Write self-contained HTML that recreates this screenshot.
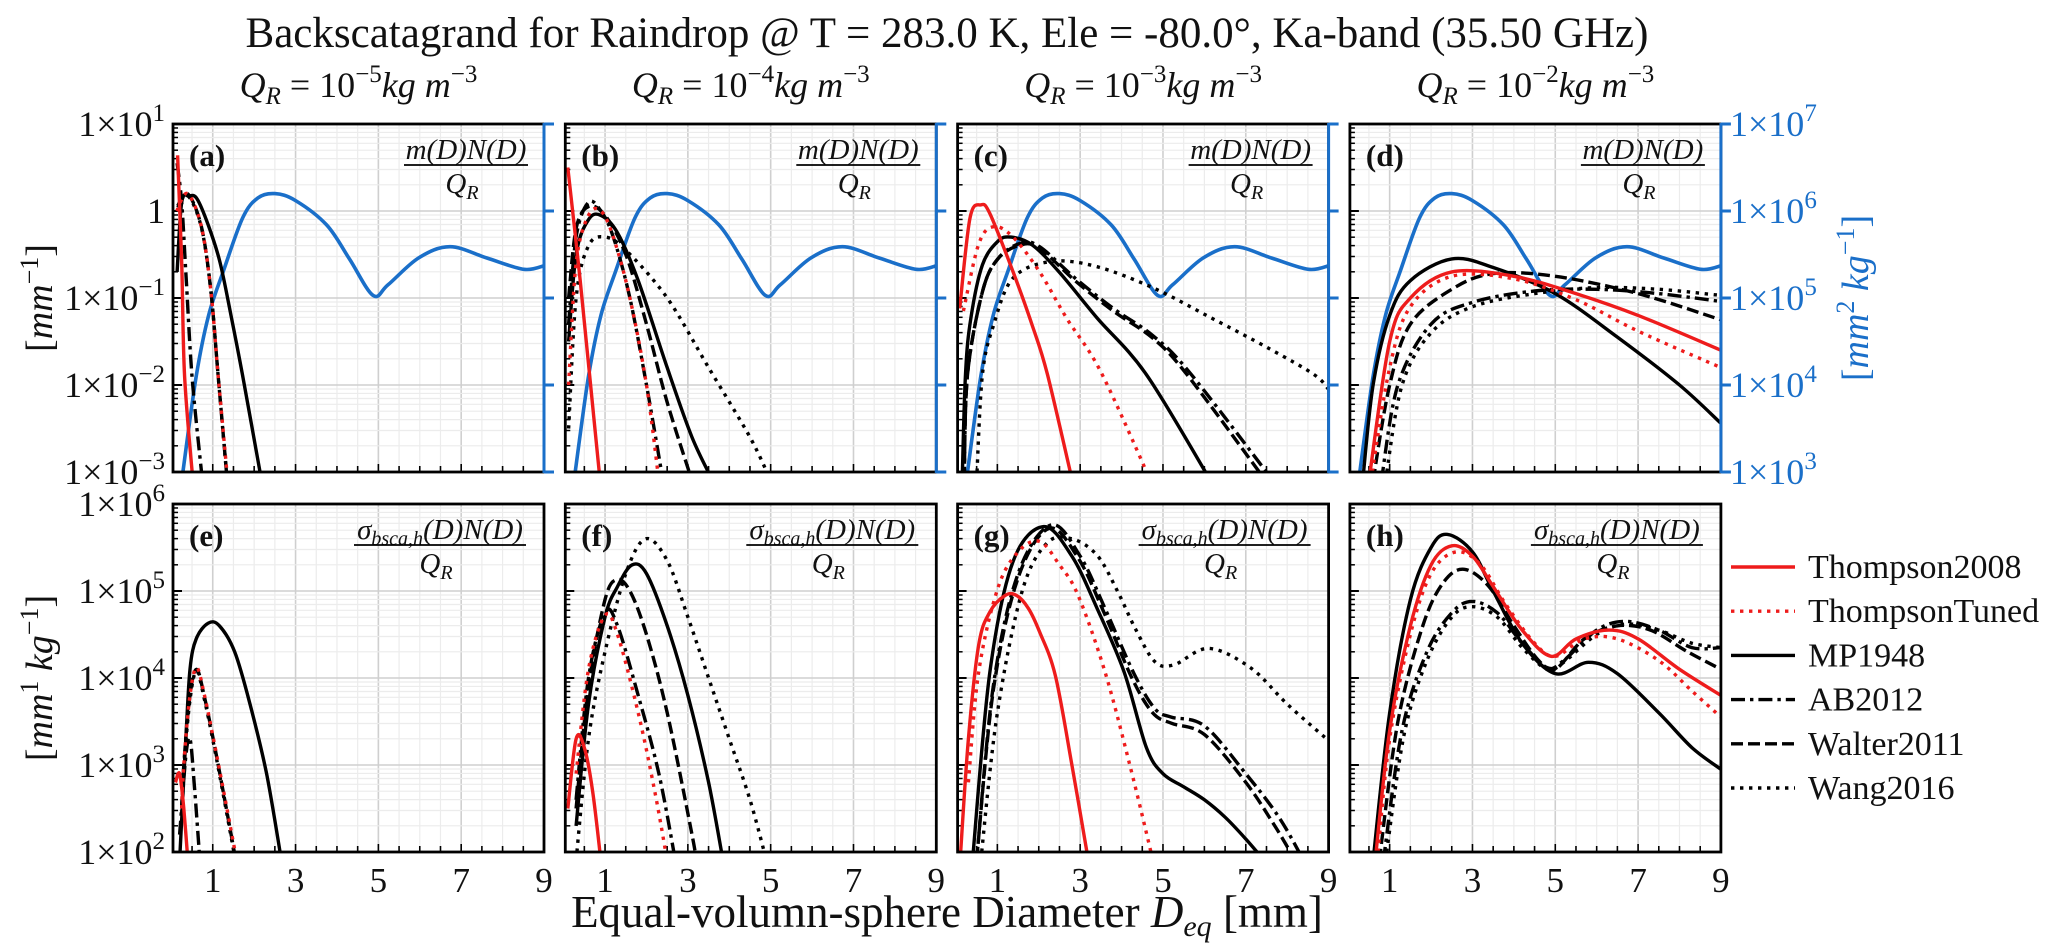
<!DOCTYPE html>
<html><head><meta charset="utf-8"><style>
html,body{margin:0;padding:0;background:#fff}
svg{display:block}
text{font-family:"Liberation Serif",serif;fill:#111}
</style></head><body>
<svg id="fig" width="2067" height="951" viewBox="0 0 2067 951" xmlns="http://www.w3.org/2000/svg">
<text x="947" y="47" font-size="43" text-anchor="middle">Backscatagrand for Raindrop @ T = 283.0 K, Ele = -80.0°, Ka-band (35.50 GHz)</text>
<text x="947" y="927" font-size="45" text-anchor="middle">Equal-volumn-sphere Diameter <tspan font-style="italic">D</tspan><tspan font-style="italic" font-size="30" dy="9">eq</tspan><tspan dy="-9"> [mm]</tspan></text>
<text transform="translate(52,298) rotate(-90)" font-size="38" text-anchor="middle">[<tspan font-style="italic">mm</tspan><tspan font-size="26" dy="-14">−1</tspan><tspan dy="14">]</tspan></text>
<text transform="translate(52,678) rotate(-90)" font-size="38" text-anchor="middle">[<tspan font-style="italic">mm</tspan><tspan font-size="26" dy="-14">1</tspan><tspan dy="14"> </tspan><tspan font-style="italic">kg</tspan><tspan font-size="26" dy="-14">−1</tspan><tspan dy="14">]</tspan></text>
<text transform="translate(1868,298) rotate(-90)" font-size="38" text-anchor="middle" style="fill:#1a6fc9">[<tspan font-style="italic" style="fill:#1a6fc9">mm</tspan><tspan font-size="26" dy="-14" style="fill:#1a6fc9">2</tspan><tspan dy="14"> </tspan><tspan font-style="italic" style="fill:#1a6fc9">kg</tspan><tspan font-size="26" dy="-14" style="fill:#1a6fc9">−1</tspan><tspan dy="14" style="fill:#1a6fc9">]</tspan></text>
<g id="panels"></g>
<g id="legend"></g>
</svg>
<script>
// ---- data: x (mm) and log10(value) pairs ----
const blueBackscatter = [[0.28,3.0],[0.6,4.1],[0.9,4.8],[1.25,5.3],[1.72,5.92],[2.09,6.15],[2.5,6.2],[3.0,6.12],[3.75,5.84],[4.3,5.45],[4.87,5.03],[5.23,5.15],[5.97,5.46],[6.73,5.59],[7.62,5.46],[8.51,5.33],[9,5.37]];

const a_Thompson2008 = [[0.15,0.64],[0.25,-0.6],[0.32,-1.9],[0.52,-3.1]];
const a_ThompsonTuned = [[0.13,0.0],[0.39,0.2],[0.72,-0.17],[0.95,-0.9],[1.13,-1.89],[1.36,-3.1]];
const a_MP1948 = [[0.14,-0.7],[0.25,0.1],[0.43,0.17],[0.62,0.14],[0.89,-0.16],[1.17,-0.58],[1.44,-1.2],[1.72,-1.89],[2.18,-3.1]];
const a_AB2012 = [[0.14,0.55],[0.25,0.1],[0.35,-0.7],[0.5,-1.9],[0.75,-3.1]];
const a_Walter2011 = [[0.15,0.06],[0.39,0.2],[0.72,-0.17],[0.95,-0.9],[1.13,-1.89],[1.35,-3.1]];
const a_Wang2016 = [[0.15,0.04],[0.39,0.18],[0.72,-0.18],[0.95,-0.9],[1.13,-1.89],[1.35,-3.1]];

const b_Thompson2008 = [[0.1,0.5],[0.4,-0.8],[0.65,-2],[0.88,-3.1]];
const b_ThompsonTuned = [[0.12,-2],[0.3,-0.6],[0.6,-0.05],[0.9,0.0],[1.2,-0.3],[1.6,-1.0],[2.0,-2.0],[2.3,-3.1]];
const b_MP1948 = [[0.12,-1.5],[0.3,-0.5],[0.6,-0.1],[0.9,-0.05],[1.3,-0.25],[1.8,-0.8],[2.5,-1.8],[3.1,-2.6],[3.6,-3.1]];
const b_AB2012 = [[0.12,-1.3],[0.3,-0.3],[0.6,0.1],[0.9,0.0],[1.2,-0.3],[1.6,-1.0],[2.0,-2.0],[2.4,-3.1]];
const b_Walter2011 = [[0.12,-1.0],[0.3,-0.2],[0.6,0.05],[1.0,-0.05],[1.5,-0.5],[2.0,-1.3],[2.5,-2.2],[3.1,-3.1]];
const b_Wang2016 = [[0.12,-2.5],[0.3,-1.0],[0.6,-0.4],[1.0,-0.3],[1.5,-0.45],[2.5,-1.0],[3.5,-1.8],[4.5,-2.6],[5.0,-3.1]];

const c_Thompson2008 = [[0.09,-1.12],[0.34,-0.08],[0.6,0.07],[0.82,-0.03],[1.38,-0.7],[1.84,-1.31],[2.21,-1.88],[2.81,-3.1]];
const c_ThompsonTuned = [[0.18,-1.15],[0.55,-0.38],[0.91,-0.18],[1.38,-0.3],[2.02,-0.7],[2.67,-1.23],[3.5,-1.85],[4.7,-3.1]];
const c_MP1948 = [[0.15,-3.1],[0.23,-1.88],[0.36,-1.23],[0.64,-0.62],[1.01,-0.35],[1.33,-0.3],[1.84,-0.39],[2.49,-0.7],[3.41,-1.23],[4.6,-1.88],[6.15,-3.1]];
const c_AB2012 = [[0.2,-3.1],[0.28,-1.88],[0.64,-0.93],[1.01,-0.55],[1.56,-0.37],[2.02,-0.41],[2.9,-0.78],[3.83,-1.13],[4.75,-1.43],[5.65,-1.86],[7.66,-3.1]];
const c_Walter2011 = [[0.2,-3.1],[0.28,-1.88],[0.64,-0.93],[1.01,-0.55],[1.56,-0.39],[2.02,-0.43],[2.9,-0.81],[3.83,-1.16],[4.75,-1.46],[5.58,-1.88],[7.48,-3.1]];
const c_Wang2016 = [[0.5,-3.1],[0.64,-1.88],[0.91,-1.31],[1.38,-0.77],[2.3,-0.58],[3.41,-0.64],[4.79,-0.89],[6.17,-1.23],[7.56,-1.58],[8.65,-1.88],[9,-2.05]];

const d_Thompson2008 = [[0.5,-3.1],[1.0,-1.5],[1.5,-1.0],[2.5,-0.7],[4,-0.75],[5.5,-0.95],[7,-1.2],[9,-1.6]];
const d_ThompsonTuned = [[0.55,-3.1],[1.0,-1.8],[1.5,-1.1],[2.5,-0.75],[4,-0.78],[5.5,-1.02],[7,-1.38],[9,-1.8]];
const d_MP1948 = [[0.35,-3.1],[0.6,-2],[1.0,-1.2],[1.5,-0.8],[2.5,-0.55],[3.5,-0.65],[5,-0.95],[6.5,-1.45],[8,-2.0],[9,-2.44]];
const d_AB2012 = [[0.8,-3.1],[1.2,-2.0],[2,-1.3],[3,-1.05],[4.5,-0.92],[6,-0.9],[7.5,-0.95],[9,-1.04]];
const d_Walter2011 = [[0.6,-3.1],[1,-2.0],[1.5,-1.3],[2.5,-0.9],[3.5,-0.72],[5,-0.75],[7,-0.95],[9,-1.25]];
const d_Wang2016 = [[0.9,-3.1],[1.3,-2.0],[2,-1.4],[3,-1.1],[4.5,-0.95],[6,-0.88],[7.5,-0.9],[9,-0.97]];

const e_Thompson2008 = [[0.1,2.8],[0.2,2.9],[0.3,2.5],[0.4,1.9]];
const e_ThompsonTuned = [[0.25,2.5],[0.3,3.0],[0.45,3.8],[0.61,4.12],[0.8,3.8],[1.1,3.1],[1.58,1.9]];
const e_MP1948 = [[0.2,1.9],[0.35,3.3],[0.45,4.1],[0.6,4.45],[0.89,4.63],[1.16,4.6],[1.53,4.3],[1.9,3.7],[2.3,2.9],[2.66,1.9]];
const e_AB2012 = [[0.2,2.2],[0.35,3.1],[0.45,3.3],[0.55,2.8],[0.69,1.9]];
const e_Walter2011 = [[0.25,2.5],[0.3,3.0],[0.45,3.8],[0.61,4.1],[0.8,3.78],[1.1,3.08],[1.56,1.9]];
const e_Wang2016 = [[0.25,2.45],[0.3,2.95],[0.45,3.75],[0.61,4.08],[0.8,3.75],[1.1,3.05],[1.55,1.9]];

const f_Thompson2008 = [[0.1,2.5],[0.3,3.3],[0.5,3.2],[0.7,2.7],[0.9,1.9]];
const f_ThompsonTuned = [[0.3,2.9],[0.6,4.1],[1.0,4.72],[1.3,4.5],[1.8,3.6],[2.2,2.7],[2.5,1.9]];
const f_MP1948 = [[0.3,2.3],[0.6,3.7],[1.0,4.7],[1.3,5.05],[1.65,5.3],[2.0,5.2],[2.5,4.6],[3.0,3.8],[3.5,2.8],[3.85,1.9]];
const f_AB2012 = [[0.3,2.6],[0.6,4.0],[1.0,4.75],[1.3,4.6],[1.8,3.8],[2.3,2.9],[2.7,1.9]];
const f_Walter2011 = [[0.3,2.5],[0.6,3.9],[1.0,4.9],[1.28,5.13],[1.6,5.0],[2.0,4.5],[2.5,3.6],[3.1,2.2],[3.2,1.9]];
const f_Wang2016 = [[0.3,1.9],[0.6,3.3],[1.0,4.3],[1.5,5.2],[1.98,5.6],[2.5,5.35],[3.0,4.7],[3.5,4.0],[4.0,3.3],[4.5,2.6],[4.9,1.9]];

const g_Thompson2008 = [[0.1,1.9],[0.3,3.3],[0.55,4.38],[0.82,4.76],[1.19,4.95],[1.46,4.95],[1.75,4.8],[2.02,4.53],[2.4,4.03],[2.8,3.0],[3.2,1.9]];
const g_ThompsonTuned = [[0.3,2.8],[0.55,4.07],[1.01,5.03],[1.5,5.45],[2.02,5.57],[2.5,5.3],[2.95,4.95],[3.6,4.07],[4.2,3.0],[4.76,1.9]];
const g_MP1948 = [[0.4,1.9],[0.82,4.07],[1.38,5.34],[2.12,5.74],[2.8,5.4],[3.41,4.8],[4.06,4.07],[4.6,3.2],[5.0,2.9],[5.5,2.75],[6.0,2.6],[6.5,2.4],[7.0,2.15],[7.45,1.9]];
const g_AB2012 = [[0.5,1.9],[0.9,3.9],[1.5,5.2],[2.3,5.76],[3.0,5.4],[3.6,4.8],[4.3,4.05],[4.8,3.65],[5.2,3.55],[6.0,3.45],[7.0,2.9],[7.8,2.4],[8.4,1.9]];
const g_Walter2011 = [[0.5,1.9],[0.9,3.85],[1.5,5.15],[2.25,5.72],[2.95,5.38],[3.55,4.78],[4.25,4.0],[4.75,3.6],[5.2,3.48],[6.0,3.35],[7.0,2.8],[7.7,2.3],[8.2,1.9]];
const g_Wang2016 = [[0.6,1.9],[1.0,3.6],[1.6,5.0],[2.2,5.55],[2.8,5.6],[3.41,5.41],[3.9,5.0],[4.33,4.57],[4.8,4.19],[5.26,4.15],[6.1,4.34],[7.11,4.12],[8.0,3.7],[9,3.28]];

const h_Thompson2008 = [[0.65,1.9],[1.0,3.4],[1.5,4.6],[2.0,5.3],[2.5,5.52],[3.0,5.4],[3.5,5.05],[4.2,4.55],[4.9,4.25],[5.5,4.45],[6.3,4.55],[7.0,4.45],[8.0,4.1],[9,3.8]];
const h_ThompsonTuned = [[0.7,1.9],[1.0,3.3],[1.5,4.5],[2.0,5.2],[2.6,5.45],[3.2,5.3],[3.8,4.85],[4.5,4.4],[5.0,4.25],[5.7,4.45],[6.5,4.45],[7.5,4.2],[8.3,3.85],[9,3.55]];
const h_MP1948 = [[0.6,1.9],[1.0,3.6],[1.5,4.9],[2.0,5.5],[2.4,5.65],[3.0,5.45],[3.5,5.0],[4.2,4.4],[5.0,4.05],[5.8,4.18],[6.5,4.05],[7.5,3.6],[8.3,3.2],[9,2.95]];
const h_AB2012 = [[0.85,1.9],[1.3,3.4],[1.9,4.3],[2.5,4.75],[3.0,4.88],[3.6,4.75],[4.2,4.4],[4.8,4.12],[5.2,4.2],[6.0,4.55],[6.7,4.65],[7.5,4.55],[8.3,4.35],[9,4.35]];
const h_Walter2011 = [[0.75,1.9],[1.2,3.5],[1.8,4.6],[2.3,5.1],[2.8,5.25],[3.4,5.05],[4.0,4.6],[4.6,4.2],[5.0,4.1],[5.7,4.45],[6.5,4.6],[7.3,4.55],[8.2,4.3],[9,4.1]];
const h_Wang2016 = [[0.9,1.9],[1.35,3.35],[1.9,4.2],[2.5,4.7],[3.0,4.82],[3.6,4.7],[4.2,4.35],[4.8,4.1],[5.2,4.18],[6.0,4.5],[6.7,4.62],[7.5,4.55],[8.3,4.4],[9,4.35]];

const xTickLabels = ["1","3","5","7","9"];
const topYTickExps = [1,0,-1,-2,-3];
const bottomYTickExps = [6,5,4,3,2];
const rightYTickExps = [7,6,5,4,3];
const columnTitleExps = ["−5","−4","−3","−2"];
const seriesNames = ["Thompson2008","ThompsonTuned","MP1948","AB2012","Walter2011","Wang2016"];

// ---- layout ----
const NS="http://www.w3.org/2000/svg";
const LEFTS=[173,565.3,957.6,1349.9], W=371, TOP=[124,504], H=348, XMIN=0.04, XMAX=9;
const BLUE="#1a6fc9";
const styles={
 Thompson2008:{c:"#ee1c1c",d:""},
 ThompsonTuned:{c:"#ee1c1c",d:"3.4,5.6"},
 MP1948:{c:"#000",d:""},
 AB2012:{c:"#000",d:"14,5,3.4,5"},
 Walter2011:{c:"#000",d:"12,5"},
 Wang2016:{c:"#000",d:"3.4,5.6"}
};
function xs(left,v){return left+(v-XMIN)/(XMAX-XMIN)*W;}
function ysTop(l){return TOP[0]+(1-l)*87;}
function ysBot(l){return TOP[1]+(6-l)*87;}
function mk(tag,attrs,parent){const e=document.createElementNS(NS,tag);for(const k in attrs)e.setAttribute(k,attrs[k]);if(parent)parent.appendChild(e);return e;}
function pathFrom(pts,fx,fy){
 const P=pts.map(p=>[fx(p[0]),fy(p[1])]);
 let d="M"+P[0][0].toFixed(1)+","+P[0][1].toFixed(1);
 for(let i=0;i<P.length-1;i++){
  const p0=P[Math.max(0,i-1)],p1=P[i],p2=P[i+1],p3=P[Math.min(P.length-1,i+2)];
  const c1=[p1[0]+(p2[0]-p0[0])/6,p1[1]+(p2[1]-p0[1])/6];
  const c2=[p2[0]-(p3[0]-p1[0])/6,p2[1]-(p3[1]-p1[1])/6];
  d+=" C"+c1[0].toFixed(1)+","+c1[1].toFixed(1)+" "+c2[0].toFixed(1)+","+c2[1].toFixed(1)+" "+p2[0].toFixed(1)+","+p2[1].toFixed(1);
 }
 return d;
}
function sciText(parent,x,y,exp,anchor,color,name){
 const t=mk("text",{x:x,y:y,"font-size":"36","text-anchor":anchor},parent);
 
 
 if(color)t.setAttribute("style","fill:"+color);
 if(exp===0){t.textContent="1";return t;}
 const a=mk("tspan",{},t);a.textContent="1×10";if(color)a.setAttribute("style","fill:"+color);
 const b=mk("tspan",{"font-size":"25",dy:"-15"},t);b.textContent=String(exp).replace("-","−");if(color)b.setAttribute("style","fill:"+color);
 return t;
}
const panelsG=document.getElementById("panels");
const allData={a:[a_Thompson2008,a_ThompsonTuned,a_MP1948,a_AB2012,a_Walter2011,a_Wang2016],
 b:[b_Thompson2008,b_ThompsonTuned,b_MP1948,b_AB2012,b_Walter2011,b_Wang2016],
 c:[c_Thompson2008,c_ThompsonTuned,c_MP1948,c_AB2012,c_Walter2011,c_Wang2016],
 d:[d_Thompson2008,d_ThompsonTuned,d_MP1948,d_AB2012,d_Walter2011,d_Wang2016],
 e:[e_Thompson2008,e_ThompsonTuned,e_MP1948,e_AB2012,e_Walter2011,e_Wang2016],
 f:[f_Thompson2008,f_ThompsonTuned,f_MP1948,f_AB2012,f_Walter2011,f_Wang2016],
 g:[g_Thompson2008,g_ThompsonTuned,g_MP1948,g_AB2012,g_Walter2011,g_Wang2016],
 h:[h_Thompson2008,h_ThompsonTuned,h_MP1948,h_AB2012,h_Walter2011,h_Wang2016]};
const letters=["a","b","c","d","e","f","g","h"];
letters.forEach((L,idx)=>{
 const row=idx<4?0:1, col=idx%4, left=LEFTS[col], top=TOP[row];
 const fy=row===0?ysTop:ysBot, fx=v=>xs(left,v);
 const g=mk("g",{},panelsG);
 
 
 const cp=mk("clipPath",{id:"clip"+L},g);mk("rect",{x:left,y:top,width:W,height:H},cp);
 const grid=mk("g",{},g);
 
 
 for(let v=0.5;v<9;v+=0.5){
  const maj=(v%2===1);
  mk("line",{x1:fx(v),x2:fx(v),y1:top,y2:top+H,stroke:maj?"#cfcfcf":"#ececec","stroke-width":maj?1.6:1.2},grid);
 }
 const lo=row===0?-3:2;
 for(let dd=0;dd<4;dd++){
  for(let m=1;m<10;m++){
   const l=lo+dd+Math.log10(m), y=fy(l);
   mk("line",{x1:left,x2:left+W,y1:y,y2:y,stroke:m===1?"#cfcfcf":"#ececec","stroke-width":m===1?1.6:1.2},grid);
   mk("line",{x1:left,x2:left+(m===1?9:5),y1:y,y2:y,stroke:"#000","stroke-width":m===1?2:1.5},g);
  }
 }
 for(let v=0.5;v<9;v+=0.5){
  const maj=(v%2===1);
  mk("line",{x1:fx(v),x2:fx(v),y1:top+H,y2:top+H-(maj?8:6),stroke:"#000","stroke-width":1.6},g);
 }
 const cg=mk("g",{"clip-path":"url(#clip"+L+")"},g);
 if(row===0){
  const bp=mk("path",{d:pathFrom(blueBackscatter,fx,v=>ysTop(v-6)),fill:"none",stroke:BLUE,"stroke-width":3.6},cg);
  
  
 }
 const order=[5,4,3,2,1,0];
 order.forEach(si=>{
  const nm=seriesNames[si], st=styles[nm];
  const p=mk("path",{d:pathFrom(allData[L][si],fx,fy),fill:"none",stroke:st.c,"stroke-width":3.4,"stroke-linejoin":"round"},cg);
  if(st.d)p.setAttribute("stroke-dasharray",st.d);
  
  
 });
 const fr=mk("rect",{x:left,y:top,width:W,height:H,fill:"none",stroke:"#000","stroke-width":2.8},g);
 
 
 if(row===0){
  const rs=mk("line",{x1:left+W,x2:left+W,y1:top-1,y2:top+H+1,stroke:BLUE,"stroke-width":3},g);
  
  
  for(let k=0;k<5;k++){
   const y=top+k*87;
   mk("line",{x1:left+W,x2:left+W+10,y1:y,y2:y,stroke:BLUE,"stroke-width":3},g);
  }
 }
 const pl=mk("text",{x:left+16,y:top+42,"font-size":"31","font-weight":"bold"},g);
 pl.textContent="("+L+")";
 
 
 const cx=row===0?left+W-78:left+W-104;
 const fg=mk("g",{},g);
 
 
 const num=mk("text",{x:cx,y:top+35,"font-size":"29","font-style":"italic","text-anchor":"middle"},fg);
 if(row===0){num.textContent="m(D)N(D)";}
 else{
  const s1=mk("tspan",{},num);s1.textContent="σ";
  const s2=mk("tspan",{"font-size":"20",dy:"6"},num);s2.textContent="bsca,h";
  const s3=mk("tspan",{dy:"-6"},num);s3.textContent="(D)N(D)";
 }
 const hw=row===0?62:86;
 mk("line",{x1:cx-hw,x2:cx+hw,y1:top+41,y2:top+41,stroke:"#000","stroke-width":1.8},fg);
 const den=mk("text",{x:cx-4,y:top+69,"font-size":"29","font-style":"italic","text-anchor":"middle"},fg);
 const d1=mk("tspan",{},den);d1.textContent="Q";
 const d2=mk("tspan",{"font-size":"20",dy:"6"},den);d2.textContent="R";
 if(row===1){
  xTickLabels.forEach(t=>{
   const tx=mk("text",{x:fx(+t),y:top+H+40,"font-size":"35","text-anchor":"middle"},g);
   tx.textContent=t;
   
   
  });
 }
 if(row===0){
  const ct=mk("text",{x:left+W/2,y:97,"font-size":"36","text-anchor":"middle","font-style":"italic"},g);
  
  
  const q=mk("tspan",{},ct);q.textContent="Q";
  const r=mk("tspan",{"font-size":"25",dy:"7"},ct);r.textContent="R";
  const eq=mk("tspan",{dy:"-7","font-style":"normal"},ct);eq.textContent=" = 10";
  const ex=mk("tspan",{"font-size":"25",dy:"-15","font-style":"normal"},ct);ex.textContent=columnTitleExps[col];
  const u=mk("tspan",{dy:"15"},ct);u.textContent="kg m";
  const ue=mk("tspan",{"font-size":"25",dy:"-15","font-style":"normal"},ct);ue.textContent="−3";
 }
});
topYTickExps.forEach((e,k)=>sciText(panelsG,165,TOP[0]+k*87+12,e,"end",null,"y-tick-label-top"));
bottomYTickExps.forEach((e,k)=>sciText(panelsG,165,TOP[1]+k*87+12,e,"end",null,"y-tick-label-bottom"));
rightYTickExps.forEach((e,k)=>sciText(panelsG,1730,TOP[0]+k*87+12,e,"start",BLUE,"y-tick-label-right"));
const lg=document.getElementById("legend");
seriesNames.forEach((nm,k)=>{
 const y=567+k*44.2, st=styles[nm];
 const e=mk("g",{},lg);
 
 
 const ln=mk("line",{x1:1731,x2:1795,y1:y,y2:y,stroke:st.c,"stroke-width":3.4},e);
 if(st.d)ln.setAttribute("stroke-dasharray",st.d);
 const t=mk("text",{x:1808,y:y+11,"font-size":"34"},e);
 t.textContent=nm;
});
</script>
</body></html>
